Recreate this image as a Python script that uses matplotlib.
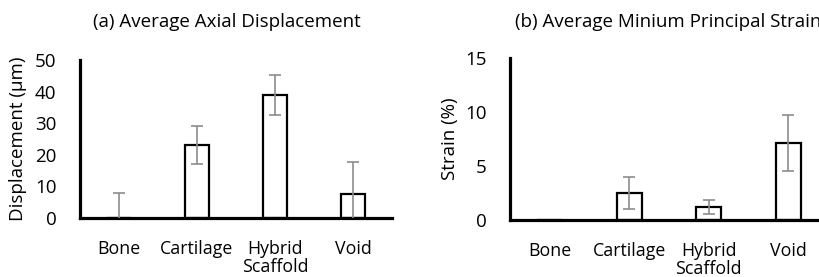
import numpy as np
import matplotlib.pyplot as plt

plt.rcParams['font.family'] = ['Open Sans', 'DejaVu Sans']

categories = ["Bone", "Cartilage", "Hybrid\nScaffold", "Void"]

# (a) displacement, um
disp = [0.0, 23.0, 39.0, 7.5]
disp_err = [8.0, 6.0, 6.3, 10.3]

# (b) strain, % (no error bar shown for bone)
strain = [0.0, 2.5, 1.2, 7.1]
strain_err = [np.nan, 1.5, 0.65, 2.6]

W, H = 819, 277
fig = plt.figure(figsize=(W / 100, H / 100), dpi=100)


def panel(rect, vals, errs, ymax, yticks, title, ylabel, title_x):
    ax = fig.add_axes(rect)
    x = np.arange(len(vals)) + 0.5
    ax.bar(x, vals, width=0.32, color="white", edgecolor="black", linewidth=1.6, zorder=2)
    ax.errorbar(x, vals, yerr=errs, fmt="none", ecolor="#8c8c8c", elinewidth=1.2,
                capsize=4.5, capthick=1.2, zorder=3)
    ax.set_xlim(0, 4)
    ax.set_ylim(0, ymax)
    ax.set_yticks(yticks)
    ax.set_xticks(x)
    ax.set_xticklabels(categories, fontsize=12.8, linespacing=0.95, va="top")
    ax.tick_params(axis="both", length=0)
    ax.tick_params(axis="y", pad=17, labelsize=13.5)
    ax.tick_params(axis="x", pad=16)
    for s in ["top", "right"]:
        ax.spines[s].set_visible(False)
    for s in ["left", "bottom"]:
        ax.spines[s].set_linewidth(2.3)
    ax.set_ylabel(ylabel, fontsize=13.5, labelpad=6)
    fig.text(title_x / W, 1 - 22 / H, title, fontsize=13.5, ha="center", va="center")
    return ax


ax1 = panel([80 / W, 1 - 218 / H, 312 / W, 158 / H], disp, disp_err, 50,
            [0, 10, 20, 30, 40, 50], "(a) Average Axial Displacement",
            "Displacement (µm)", 227)
ax2 = panel([510 / W, 1 - 220 / H, 318 / W, 161.7 / H], strain, strain_err, 15,
            [0, 5, 10, 15], "(b) Average Minium Principal Strain",
            "Strain (%)", 668)
ax2.yaxis.labelpad = 4

fig.savefig("out.png", dpi=100)
